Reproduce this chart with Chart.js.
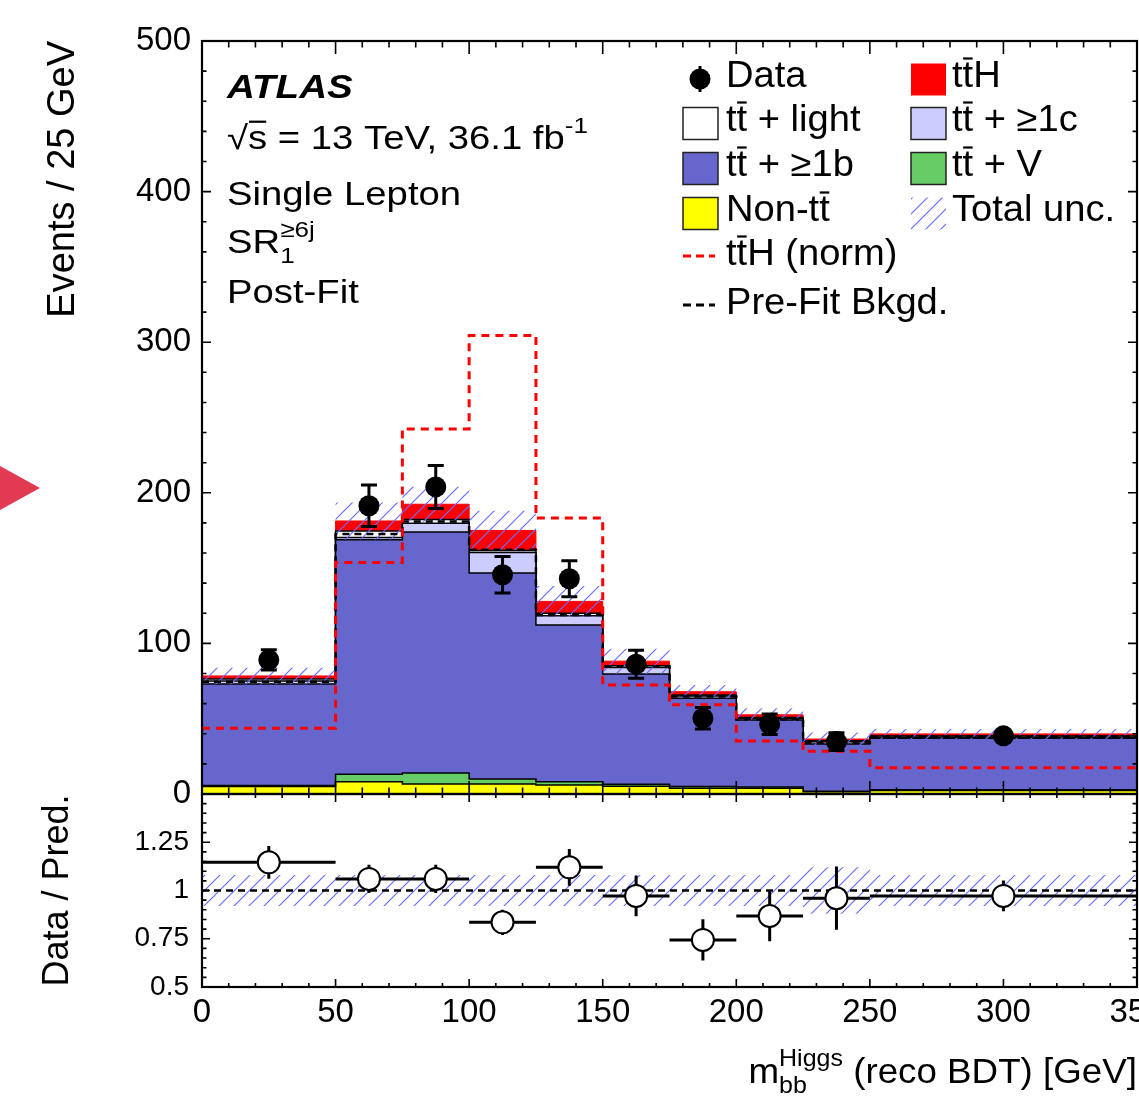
<!DOCTYPE html>
<html>
<head>
<meta charset="utf-8">
<script src="https://cdn.jsdelivr.net/npm/chart.js@4.4.1/dist/chart.umd.min.js"></script>
<style>
  body { margin: 0; background: #fff; }
  #wrap { position: relative; width: 1139px; height: 1106px; overflow: hidden; background: #fff; }
  canvas { position: absolute; left: 0; top: 0; }
</style>
</head>
<body>
<div id="wrap">
  <canvas id="mainChart" width="1139" height="1106"></canvas>
  <canvas id="ratioChart" width="1139" height="1106"></canvas>
</div>
<script>
// bins of m_bb (GeV), last bin is 100 GeV wide
const binEdges   = [0, 50, 75, 100, 125, 150, 175, 200, 225, 250, 350];
const binCenters = [25, 62.5, 87.5, 112.5, 137.5, 162.5, 187.5, 212.5, 237.5, 300];

// post-fit stack, bottom to top (events / 25 GeV)
const nonTT   = [4.9, 8.2, 6.6, 6.6, 6.0, 5.2, 3.8, 3.8, 1.5, 2.3];
const ttV     = [0.8, 4.9, 7.3, 3.3, 2.2, 1.2, 1.2, 0.8, 0.3, 0.6];
const ttB     = [67.4, 155.7, 160.0, 136.8, 104.1, 73.2, 58.6, 44.6, 31.4, 34.1];
const ttC     = [2.0, 1.5, 5.8, 13.7, 6.0, 4.4, 1.5, 0.9, 1.5, 0.6];
const ttLight = [1.3, 4.4, 2.6, 1.3, 1.8, 1.1, 0.6, 0.7, 0.6, 0.9];
const ttH     = [2.0, 6.6, 10.1, 13.3, 7.8, 3.1, 2.2, 1.8, 1.2, 1.4];
const totUnc  = [5.5, 12.3, 11.7, 13.0, 10.2, 8.3, 4.4, 4.4, 4.3, 3.3];

const ttHNorm = [43.7, 153.7, 242.4, 304.4, 183.2, 72.4, 59.2, 35.2, 28.4, 17.5];
const preFit  = [74.6, 172.6, 181.0, 162.2, 118.8, 84.6, 64.7, 49.6, 34.1, 38.1];

const dataVal = [89.1, 191.4, 203.9, 145.6, 142.9, 86.2, 50.3, 46.3, 34.8, 38.6];
const dataErr = [6.7, 13.8, 14.3, 12.1, 12.0, 9.3, 7.1, 6.8, 5.9, 3.1];

// ratio pad
const ratioVal = [1.146, 1.060, 1.060, 0.835, 1.120, 0.972, 0.744, 0.868, 0.960, 0.972];
const ratioErr = [0.085, 0.073, 0.073, 0.065, 0.095, 0.106, 0.107, 0.131, 0.164, 0.080];
const ratioUnc = [0.08, 0.08, 0.08, 0.08, 0.08, 0.08, 0.08, 0.08, 0.12, 0.08];
const ratioRef = 1;

const yTicksRatio = [0.5, 0.75, 1, 1.25];

const FONT = '"Liberation Sans", Arial, Helvetica, sans-serif';
Chart.defaults.font.family = FONT;
Chart.defaults.color = '#000';

const C_B = '#6666cc', C_C = '#ccccff', C_V = '#66cc66', C_NON = '#ffff00', C_H = '#ff0000';

function steps(vals) {
    return binEdges.map((e, i) => ({ x: e, y: vals[Math.min(i, vals.length - 1)] }));
}
function points(vals) {
    return binCenters.map((c, i) => ({ x: c, y: vals[i] }));
}

// stack the components
let running = binCenters.map(() => 0);
const stackTops = [nonTT, ttV, ttB, ttC, ttLight, ttH].map(l => (running = running.map((r, i) => r + l[i])));
const total = stackTops[stackTops.length - 1];

function hatchPattern() {
    const c = document.createElement('canvas');
    c.width = 15; c.height = 15;
    const g = c.getContext('2d');
    g.strokeStyle = '#6b6bff';
    g.lineWidth = 1.2;
    g.beginPath();
    g.moveTo(-1, 16); g.lineTo(16, -1);
    g.moveTo(-2, 2); g.lineTo(2, -2);
    g.moveTo(13, 17); g.lineTo(17, 13);
    g.stroke();
    return g.createPattern(c, 'repeat');
}
const HATCH = hatchPattern();

// text with sub/superscripts and bars, sx = horizontal stretch
function richText(ctx, parts, x, y, size, sx, measureOnly) {
    ctx.save();
    ctx.translate(x, y);
    ctx.scale(sx, 1);
    let cx = 0, held = 0;
    for (const p of parts) {
        const small = p.k === 'sup' || p.k === 'sub';
        const fs = small ? size * 0.68 : size;
        ctx.font = (p.b ? 'italic bold ' : '') + fs + 'px ' + FONT;
        const w = ctx.measureText(p.t).width;
        const dy = p.k === 'sup' ? -size * 0.5 : p.k === 'sub' ? size * 0.29 : 0;
        if (!measureOnly) {
            ctx.fillText(p.t, cx, dy);
            if (p.k === 'bar') ctx.fillRect(cx + w * 0.05, -size * (p.barY || 0.8), w * 0.9, 2.2);
        }
        if (p.keep) held = w;
        else { cx += Math.max(w, held); held = 0; }
    }
    ctx.restore();
    return cx * sx;
}

function frameTicks(o) {
    return {
        id: 'frameTicks',
        afterDatasetsDraw(chart) {
            const { ctx, chartArea: a, scales: { x, y } } = chart;
            ctx.save();
            ctx.strokeStyle = '#000';
            ctx.lineWidth = 1.6;
            ctx.beginPath();
            const nx = Math.round((x.max - x.min) / o.xMinor);
            for (let i = 0; i <= nx; i++) {
                const px = x.getPixelForValue(x.min + i * o.xMinor);
                const len = i % o.xEvery === 0 ? o.xLen[0] : o.xLen[1];
                ctx.moveTo(px, a.bottom); ctx.lineTo(px, a.bottom - len);
                ctx.moveTo(px, a.top); ctx.lineTo(px, a.top + len);
            }
            const ny = Math.round((y.max - y.min) / o.yMinor);
            for (let i = 0; i <= ny; i++) {
                const py = y.getPixelForValue(y.min + i * o.yMinor);
                const len = i % o.yEvery === 0 ? o.yLen[0] : o.yLen[1];
                ctx.moveTo(a.left, py); ctx.lineTo(a.left + len, py);
                ctx.moveTo(a.right, py); ctx.lineTo(a.right - len, py);
            }
            ctx.stroke();
            ctx.lineWidth = 2.2;
            ctx.strokeRect(a.left, a.top, a.right - a.left, a.bottom - a.top);
            ctx.restore();
        }
    };
}

const errorBars = {
    id: 'errorBars',
    beforeDatasetDraw(chart, args) {
        const ds = chart.data.datasets[args.index];
        if (!ds.yErr) return;
        const { ctx, scales: { x, y } } = chart;
        ctx.save();
        ctx.strokeStyle = '#000';
        ctx.lineWidth = 3;
        ctx.beginPath();
        ds.data.forEach((p, i) => {
            const px = x.getPixelForValue(p.x);
            const lo = y.getPixelForValue(p.y - ds.yErr[i]);
            const hi = y.getPixelForValue(p.y + ds.yErr[i]);
            ctx.moveTo(px, lo); ctx.lineTo(px, hi);
            if (ds.caps) {
                ctx.moveTo(px - 8, lo); ctx.lineTo(px + 8, lo);
                ctx.moveTo(px - 8, hi); ctx.lineTo(px + 8, hi);
            }
            if (ds.xBins) {
                const py = y.getPixelForValue(p.y);
                ctx.moveTo(x.getPixelForValue(binEdges[i]), py);
                ctx.lineTo(x.getPixelForValue(binEdges[i + 1]), py);
            }
        });
        ctx.stroke();
        ctx.restore();
    }
};

const mainText = {
    id: 'mainText',
    afterDraw(chart) {
        const ctx = chart.ctx;
        ctx.save();
        ctx.fillStyle = '#000';
        ctx.textBaseline = 'alphabetic';
        ctx.textAlign = 'left';
        const S = 33, SX = 1.16, X = 227;
        richText(ctx, [{ t: 'ATLAS', b: true }], X, 98, 33, 1.17);
        richText(ctx, [{ t: '\u221A' }, { t: 's', k: 'bar', barY: 0.86 }, { t: ' = 13 TeV, 36.1 fb' }, { t: '-1', k: 'sup' }], X, 149, S, SX);
        richText(ctx, [{ t: 'Single Lepton' }], X, 205, S, SX);
        richText(ctx, [{ t: 'SR' }, { t: '\u22656j', k: 'sup', keep: true }, { t: '1', k: 'sub' }], X, 253, S, SX);
        richText(ctx, [{ t: 'Post-Fit' }], X, 303, S, SX);

        // legend
        const L = 37, LX = 1.03, c1 = 683, c2 = 911, bw = 35, bh = 32, tx = 43;
        const rows = [87, 131, 176, 221, 265, 314];
        const tt = [{ t: 't' }, { t: 't', k: 'bar' }];
        function box(x, base, fill, border) {
            ctx.fillStyle = fill;
            ctx.fillRect(x, base - 23.5, bw, bh);
            if (border) {
                ctx.strokeStyle = '#222'; ctx.lineWidth = 1.5;
                ctx.strokeRect(x, base - 23.5, bw, bh);
            }
            ctx.fillStyle = '#000';
        }
        // Data marker
        ctx.strokeStyle = '#000'; ctx.lineWidth = 3;
        ctx.beginPath(); ctx.moveTo(700, rows[0] - 21); ctx.lineTo(700, rows[0] + 5); ctx.stroke();
        ctx.beginPath(); ctx.arc(700, rows[0] - 8, 10.5, 0, 2 * Math.PI); ctx.fill();
        richText(ctx, [{ t: 'Data' }], c1 + tx, rows[0], L, LX);
        box(c1, rows[1], '#fff', true);
        richText(ctx, tt.concat([{ t: ' + light' }]), c1 + tx, rows[1], L, LX);
        box(c1, rows[2], C_B, true);
        richText(ctx, tt.concat([{ t: ' + \u22651b' }]), c1 + tx, rows[2], L, LX);
        box(c1, rows[3], C_NON, true);
        richText(ctx, [{ t: 'Non-' }].concat(tt), c1 + tx, rows[3], L, LX);
        ctx.lineWidth = 3;
        ctx.setLineDash([8, 5]);
        ctx.strokeStyle = C_H;
        ctx.beginPath(); ctx.moveTo(c1, rows[4] - 9); ctx.lineTo(c1 + 32, rows[4] - 9); ctx.stroke();
        ctx.strokeStyle = '#000';
        ctx.beginPath(); ctx.moveTo(c1, rows[5] - 9); ctx.lineTo(c1 + 32, rows[5] - 9); ctx.stroke();
        ctx.setLineDash([]);
        richText(ctx, tt.concat([{ t: 'H (norm)' }]), c1 + tx, rows[4], L, LX);
        richText(ctx, [{ t: 'Pre-Fit Bkgd.' }], c1 + tx, rows[5], L, LX);

        box(c2, rows[0], C_H, false);
        richText(ctx, tt.concat([{ t: 'H' }]), c2 + 41, rows[0], L, LX);
        box(c2, rows[1], C_C, true);
        richText(ctx, tt.concat([{ t: ' + \u22651c' }]), c2 + 41, rows[1], L, LX);
        box(c2, rows[2], C_V, true);
        richText(ctx, tt.concat([{ t: ' + V' }]), c2 + 41, rows[2], L, LX);
        box(c2, rows[3], HATCH, false);
        richText(ctx, [{ t: 'Total unc.' }], c2 + 41, rows[3], L, LX);

        // marker at left page edge
        ctx.fillStyle = '#e23a52';
        ctx.beginPath(); ctx.moveTo(0, 466); ctx.lineTo(40, 488); ctx.lineTo(0, 510); ctx.closePath(); ctx.fill();
        ctx.restore();
    }
};

const ratioText = {
    id: 'ratioText',
    afterDraw(chart) {
        const ctx = chart.ctx;
        ctx.save();
        ctx.fillStyle = '#000';
        ctx.textAlign = 'left';
        const parts = [{ t: 'm' }, { t: 'Higgs', k: 'sup', keep: true }, { t: 'bb', k: 'sub' }, { t: ' (reco BDT) [GeV]' }];
        const w = richText(ctx, parts, 0, 0, 35, 1.05, true);
        richText(ctx, parts, chart.chartArea.right - w, 1083, 35, 1.05);
        ctx.restore();
    }
};

function stepLine(label, vals, fill, bg, border, bw, order) {
    return {
        label, data: steps(vals), stepped: true, fill, backgroundColor: bg,
        borderColor: border, borderWidth: bw, pointRadius: 0, order
    };
}

const mainCtx = document.getElementById('mainChart');
new Chart(mainCtx, {
    type: 'line',
    data: {
        datasets: [
            stepLine('Non-tt', stackTops[0], 'origin', C_NON, '#000', 1.5, 5),
            stepLine('tt + V', stackTops[1], '-1', C_V, '#000', 1.5, 5),
            stepLine('tt + >=1b', stackTops[2], '-1', C_B, '#000', 1.5, 5),
            stepLine('tt + >=1c', stackTops[3], '-1', C_C, '#000', 1.5, 5),
            stepLine('tt + light', stackTops[4], '-1', '#fff', '#000', 1.5, 5),
            stepLine('ttH', stackTops[5], '-1', C_H, C_H, 1, 5),
            stepLine('unc lo', total.map((t, i) => t - totUnc[i]), false, 'rgba(0,0,0,0)', 'rgba(0,0,0,0)', 0, 4),
            stepLine('Total unc.', total.map((t, i) => t + totUnc[i]), '-1', HATCH, 'rgba(0,0,0,0)', 0, 4),
            Object.assign(stepLine('Pre-Fit Bkgd.', preFit, false, 'rgba(0,0,0,0)', '#000', 2.5, 3), { borderDash: [7, 5] }),
            Object.assign(stepLine('ttH (norm)', ttHNorm, false, 'rgba(0,0,0,0)', C_H, 3, 2), { borderDash: [8, 6] }),
            {
                label: 'Data', data: points(dataVal), yErr: dataErr, caps: true,
                showLine: false, pointRadius: 10.5, pointBackgroundColor: '#000',
                pointBorderColor: '#000', pointBorderWidth: 0, order: 0
            }
        ]
    },
    options: {
        responsive: false,
        devicePixelRatio: 1,
        animation: false,
        events: [],
        layout: { autoPadding: false, padding: { top: 41, right: 2, bottom: 312, left: 0 } },
        plugins: { legend: { display: false }, tooltip: { enabled: false } },
        scales: {
            x: { type: 'linear', min: 0, max: 350, display: false },
            y: {
                min: 0, max: 500,
                grid: { display: false, drawTicks: false },
                border: { display: false },
                ticks: { stepSize: 100, padding: 11, font: { size: 33 }, color: '#000' },
                title: {
                    display: true, text: 'Events / 25 GeV', align: 'end',
                    font: { size: 38 }, color: '#000', padding: { top: 41, bottom: 0 }
                },
                afterFit(s) { s.width = 202; s.paddingTop = 0; s.paddingBottom = 0; }
            }
        }
    },
    plugins: [errorBars, frameTicks({ xMinor: 10, xEvery: 5, xLen: [13, 6.5], yMinor: 20, yEvery: 5, yLen: [9, 4.5] }), mainText]
});

const ratioCtx = document.getElementById('ratioChart');
new Chart(ratioCtx, {
    type: 'line',
    data: {
        datasets: [
            stepLine('band lo', ratioUnc.map(u => ratioRef - u), false, 'rgba(0,0,0,0)', 'rgba(0,0,0,0)', 0, 4),
            stepLine('band hi', ratioUnc.map(u => ratioRef + u), '-1', HATCH, 'rgba(0,0,0,0)', 0, 4),
            {
                label: 'ref', data: [{ x: binEdges[0], y: ratioRef }, { x: binEdges[binEdges.length - 1], y: ratioRef }],
                borderColor: '#000', borderWidth: 2.5, borderDash: [7, 5], pointRadius: 0, fill: false, order: 3
            },
            {
                label: 'Data / Pred.', data: points(ratioVal), yErr: ratioErr, xBins: true,
                showLine: false, pointRadius: 11, pointBackgroundColor: '#fff',
                pointBorderColor: '#000', pointBorderWidth: 2, order: 0
            }
        ]
    },
    options: {
        responsive: false,
        devicePixelRatio: 1,
        animation: false,
        events: [],
        layout: { autoPadding: false, padding: { top: 794, right: 2, bottom: 0, left: 0 } },
        plugins: { legend: { display: false }, tooltip: { enabled: false } },
        scales: {
            x: {
                type: 'linear', min: 0, max: 350,
                grid: { display: false, drawTicks: false },
                border: { display: false },
                ticks: { stepSize: 50, padding: 6, maxRotation: 0, autoSkip: false, font: { size: 33 }, color: '#000' },
                afterFit(s) { s.height = 119; s.paddingLeft = 0; s.paddingRight = 0; }
            },
            y: {
                min: 0.5, max: 1.5,
                grid: { display: false, drawTicks: false },
                border: { display: false },
                ticks: { padding: 13, font: { size: 28 }, color: '#000', callback: v => String(v) },
                afterBuildTicks(s) { s.ticks = yTicksRatio.map(v => ({ value: v })); },
                title: {
                    display: true, text: 'Data / Pred.', align: 'center',
                    font: { size: 36 }, color: '#000', padding: { top: 36, bottom: 0 }
                },
                afterFit(s) { s.width = 202; s.paddingTop = 0; s.paddingBottom = 0; }
            }
        }
    },
    plugins: [errorBars, frameTicks({ xMinor: 10, xEvery: 5, xLen: [8, 4], yMinor: 0.05, yEvery: 5, yLen: [8, 4.5] }), ratioText]
});
</script>
</body>
</html>
